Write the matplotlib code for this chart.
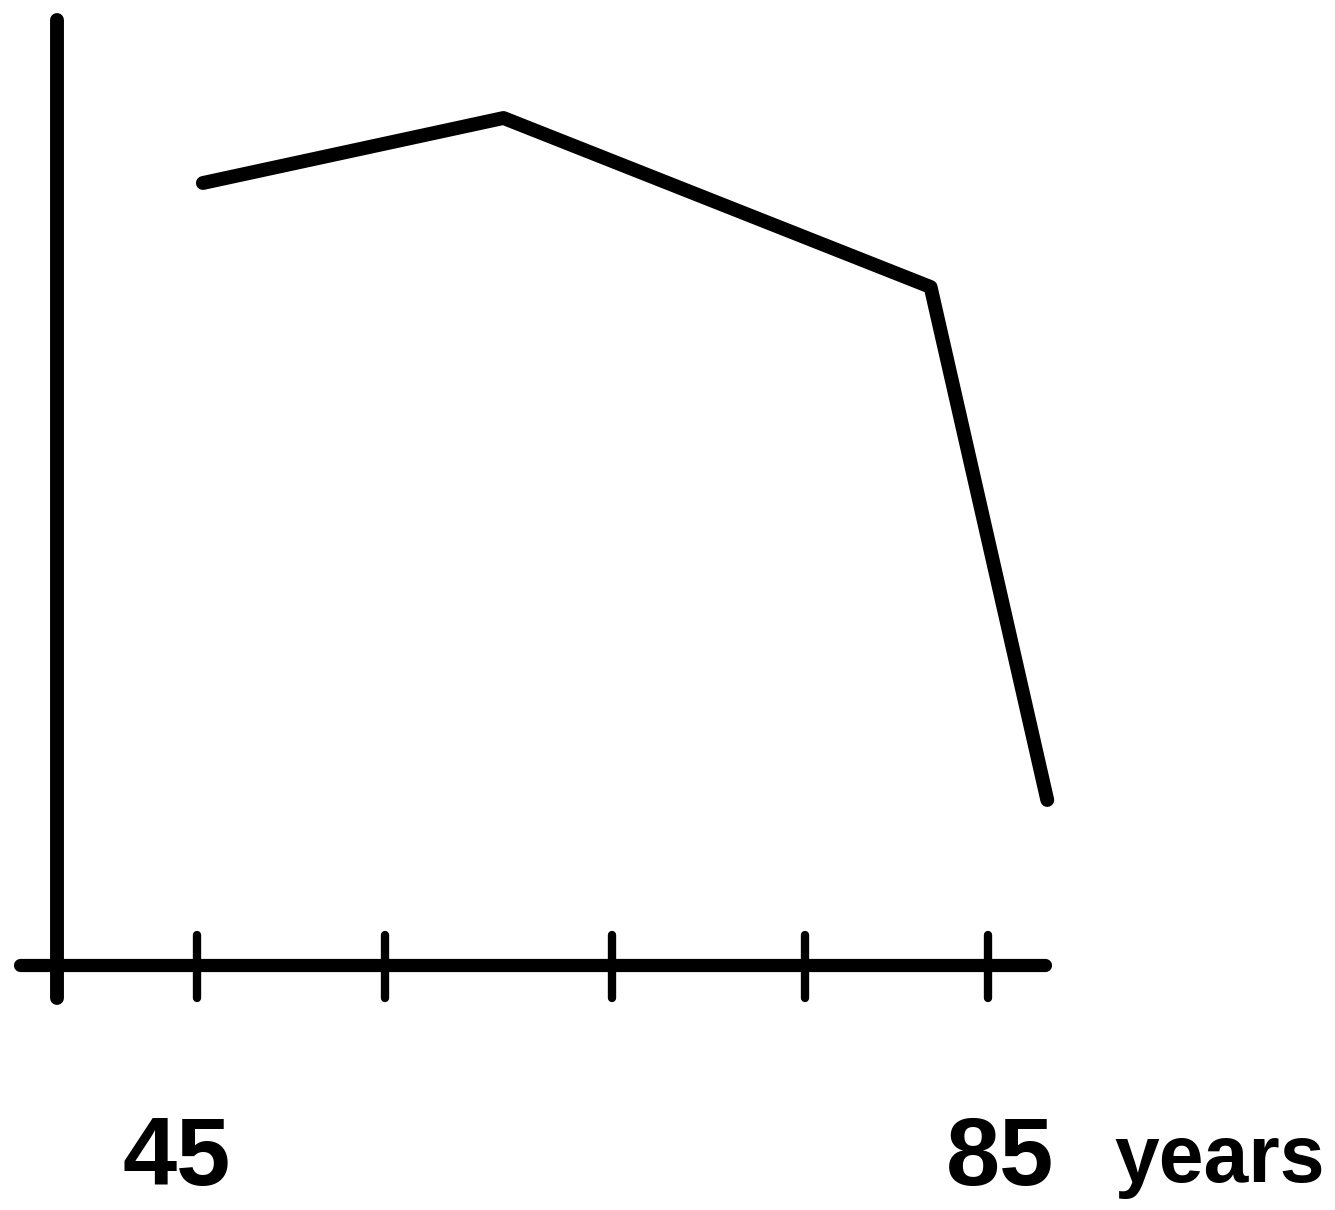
import matplotlib.pyplot as plt

# Données (âge en années, valeur relative)
ages = [45.3, 60.5, 82.1, 88.0]
values = [78.2, 84.7, 67.8, 16.5]

tick_years = [45, 54.5, 66, 75.75, 85]
labels = {45: "45", 85: "85"}

fig = plt.figure(figsize=(13.35, 12.1), dpi=100)
ax = fig.add_axes([0, 0, 1, 1])
ax.set_xlim(35.04, 102.55)
ax.set_ylim(-24.5, 96.5)
ax.axis("off")

# Axes dessinés à la main
ax.plot([36.05, 87.9], [0, 0], color="black", lw=9.5, solid_capstyle="round")
ax.plot([37.92, 37.92], [-3.3, 94.5], color="black", lw=10, solid_capstyle="round")
for t in tick_years:
    ax.plot([t, t], [3.0, -3.3], color="black", lw=6, solid_capstyle="round")

# Courbe
ax.plot(ages, values, color="black", lw=10, solid_capstyle="round", solid_joinstyle="round")

font = ["Liberation Sans", "DejaVu Sans"]
for t, txt in labels.items():
    ax.text(t - 1.0 if t == 45 else t + 0.6, -22.0, txt, ha="center", va="baseline",
            fontsize=70, fontweight="bold", family=font)
ax.text(96.7, -21.7, "years", ha="center", va="baseline",
        fontsize=58, fontweight="bold", family=font)

fig.savefig("out.png", dpi=100)
